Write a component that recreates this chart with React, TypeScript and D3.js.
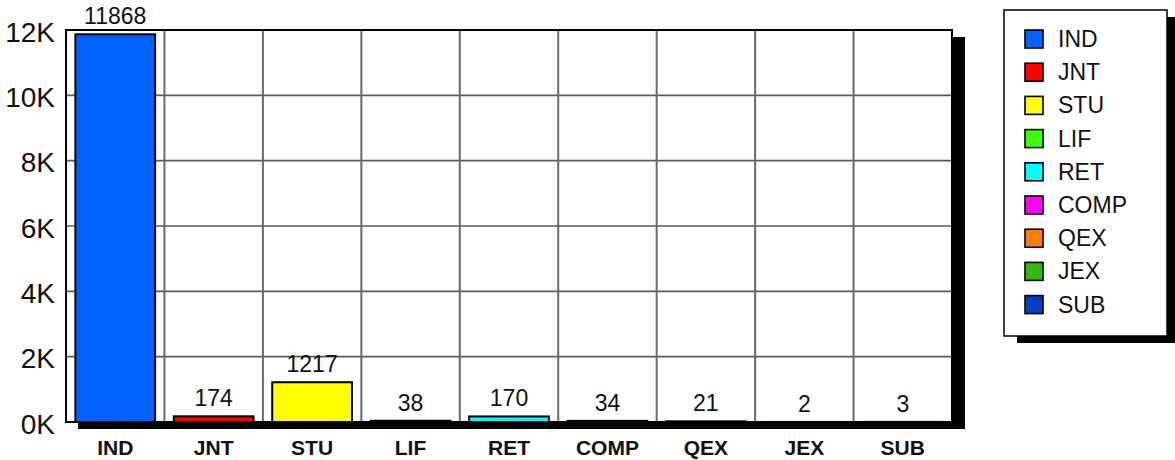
import React from 'react';
import * as d3 from 'd3';

const categories = ['IND', 'JNT', 'STU', 'LIF', 'RET', 'COMP', 'QEX', 'JEX', 'SUB'];
const counts = [11868, 174, 1217, 38, 170, 34, 21, 2, 3];
const yTicks = [0, 2000, 4000, 6000, 8000, 10000, 12000];

const barColors = ['#0062ff', '#ff0000', '#ffff00', '#3cff00', '#00ffff', '#ff00ff', '#ff8000', '#33bb00', '#0040c4'];

const font = '"Liberation Sans", Arial, sans-serif';

const config = {
    width: 1175,
    height: 460,
    margin: {left: 66, top: 30, right: 223, bottom: 38},
    shadow: {dx: 12, dy: 7},
    legend: {x: 1004, y: 10, width: 163, height: 326, rowStart: 39, rowStep: 33.2},
};

function App() {
    const margin = config.margin;
    const plotRight = config.width - margin.right;
    const plotBottom = config.height - margin.bottom;
    const plot_width = plotRight - margin.left;
    const plot_height = plotBottom - margin.top;
    const {dx, dy} = config.shadow;

    const x = d3.scaleBand()
        .domain(categories)
        .range([margin.left, plotRight])
        .paddingInner(0.19)
        .paddingOuter(0.095)
    ;

    // cells for the vertical grid
    const cell = d3.scaleBand()
        .domain(categories)
        .range([margin.left, plotRight])
    ;

    const y = d3.scaleLinear()
        .domain([0, 12000])
        .range([plotBottom, margin.top])
    ;

    const fmt = (d: number) => `${d / 1000}K`;
    const lg = config.legend;

    return (
        <svg width={config.width}
             height={config.height}
             viewBox={`0, 0, ${config.width}, ${config.height}`}
             style={{position: 'absolute', left: 0, top: 0, display: 'block'}}
             fontFamily={font}>

            {/* plot frame with drop shadow */}
            <rect x={margin.left + dx} y={margin.top + dy} width={plot_width + 1} height={plot_height} fill="#000" />
            <rect x={margin.left} y={margin.top} width={plot_width} height={plot_height} fill="#fff" />

            <g className="grid">
                {yTicks.slice(1, -1).map(t => (
                    <line key={t} x1={margin.left} x2={plotRight} y1={y(t)} y2={y(t)}
                          stroke="#5a5a5a" strokeWidth={1.6} />
                ))}
                {categories.slice(1).map(c => (
                    <line key={c} x1={cell(c)} x2={cell(c)} y1={margin.top} y2={plotBottom}
                          stroke="#6a6a6a" strokeWidth={2} />
                ))}
            </g>

            <g className="bars">
                {categories.map((c, i) => (
                    <rect key={c}
                          x={x(c)}
                          y={y(counts[i])}
                          width={x.bandwidth()}
                          height={plotBottom - y(counts[i])}
                          fill={barColors[i]}
                          stroke="#000"
                          strokeWidth={2} />
                ))}
            </g>

            <rect x={margin.left} y={margin.top} width={plot_width} height={plot_height}
                  fill="none" stroke="#000" strokeWidth={2} />

            <g className="values" fontSize={23} textAnchor="middle" fill="#111">
                {categories.map((c, i) => (
                    <text key={c} x={x(c) + x.bandwidth() / 2} y={y(counts[i]) - 10}>{counts[i]}</text>
                ))}
            </g>

            <g className="gy" fontSize={28} textAnchor="end" fill="#111">
                {yTicks.map(t => (
                    <text key={t} x={55} y={y(t) + 2} dy="0.35em">{fmt(t)}</text>
                ))}
            </g>

            <g className="gx" fontSize={21} fontWeight="bold" textAnchor="middle" fill="#111">
                {categories.map(c => (
                    <text key={c} x={x(c) + x.bandwidth() / 2} y={455}>{c}</text>
                ))}
            </g>

            <g className="legend">
                <rect x={lg.x + 13} y={lg.y + dy} width={lg.width} height={lg.height} fill="#000" />
                <rect x={lg.x} y={lg.y} width={lg.width} height={lg.height} fill="#fff" stroke="#000" strokeWidth={1.5} />
                {categories.map((c, i) => {
                    const cy = lg.y + lg.rowStart - 10 + i * lg.rowStep;
                    return (
                        <g key={c}>
                            <rect x={1025} y={cy - 9} width={18} height={18}
                                  fill={barColors[i]} stroke="#000" strokeWidth={1.6} />
                            <text x={1058} y={cy + 8} fontSize={23} fill="#111">{c}</text>
                        </g>
                    );
                })}
            </g>
        </svg>
    );
}

export default App;
